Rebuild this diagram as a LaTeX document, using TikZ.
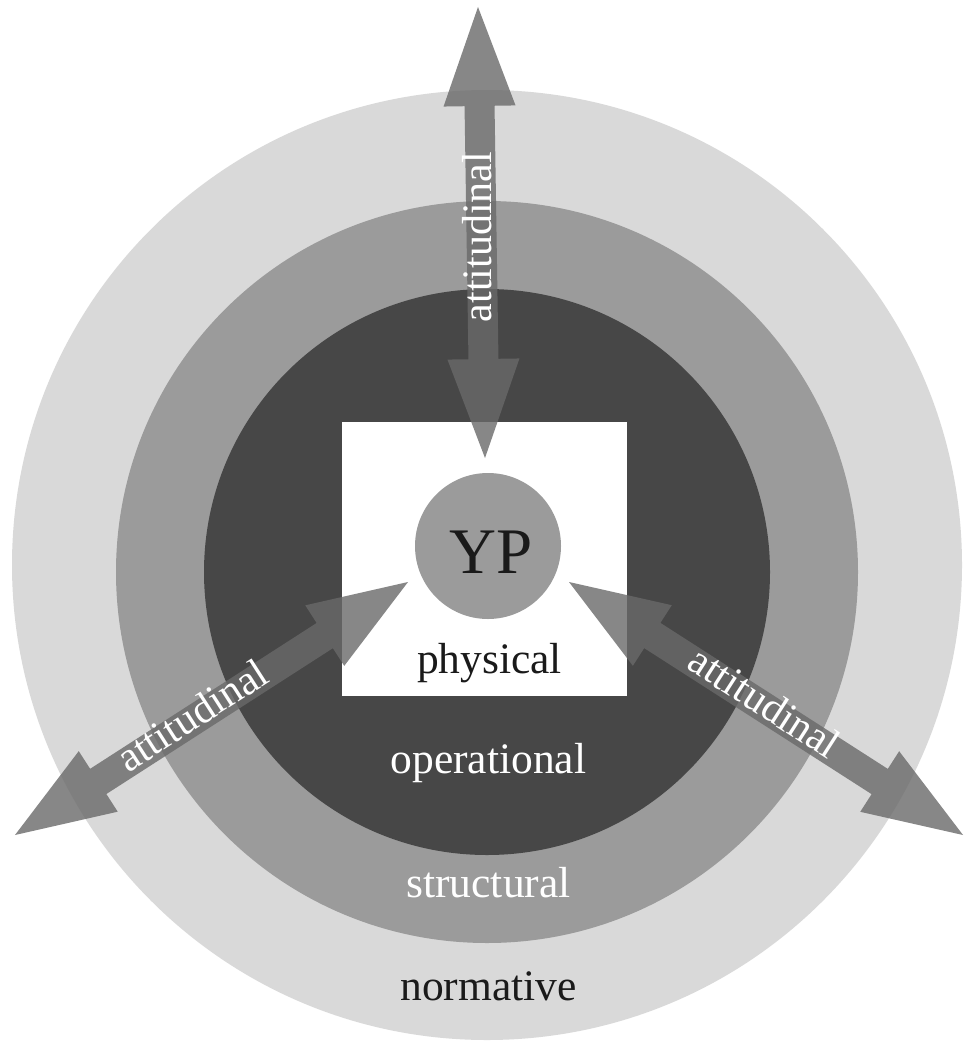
\documentclass[tikz,border=0pt]{standalone}
\usepackage{fontspec}
\setmainfont{Liberation Serif}
\usetikzlibrary{calc}
\definecolor{ringout}{HTML}{D9D9D9}
\definecolor{ringmid}{HTML}{9B9B9B}
\definecolor{ringin}{HTML}{474747}
\definecolor{arrowgray}{HTML}{696969}
\definecolor{inkdark}{HTML}{1A1A1A}
\tikzset{
  arrowfill/.style={fill=arrowgray, fill opacity=0.8},
  ringlabel/.style={anchor=base, font=\fontsize{43.5}{50}\selectfont, inner sep=0pt},
  arrowlabel/.style={anchor=base, text=white, font=\fontsize{42}{48}\selectfont, inner sep=0pt}
}
% two-headed fat arrow from #1 to #2
\newcommand\fatarrow[2]{%
  \coordinate (h1) at ($(#1)!99pt!(#2)$);
  \coordinate (h2) at ($(#2)!99pt!(#1)$);
  \fill[arrowfill] (#1)
    -- ($(h1)!36pt!90:(#2)$) -- ($(h1)!15pt!90:(#2)$)
    -- ($(h2)!15pt!-90:(#1)$) -- ($(h2)!36pt!-90:(#1)$)
    -- (#2)
    -- ($(h2)!36pt!90:(#1)$) -- ($(h2)!15pt!90:(#1)$)
    -- ($(h1)!15pt!-90:(#2)$) -- ($(h1)!36pt!-90:(#2)$)
    -- cycle;
}
\begin{document}
\begin{tikzpicture}[x=1pt, y=-1pt]
  \useasboundingbox (0,0) rectangle (971,1041);
  \fill[white] (0,0) rectangle (971,1041);

  % nested spheres of influence
  \fill[ringout] (487,565) circle (475);
  \fill[ringmid] (487,572) circle (371);
  \fill[ringin]  (487,572) circle (283);
  \fill[white] (342,422) rectangle (627,696);

  % arrow end points
  \coordinate (topfar)   at (478,7);
  \coordinate (topnear)  at (485,458);
  \coordinate (leftfar)  at (15,835);
  \coordinate (leftnear) at (408,582);
  \coordinate (rightfar) at (963,835);
  \coordinate (rightnear) at (569,582);

  \fatarrow{topfar}{topnear}
  \fatarrow{leftfar}{leftnear}
  \fatarrow{rightfar}{rightnear}

  % central person
  \node[circle, fill=ringmid, minimum size=146pt, inner sep=0pt] (yp) at (488,546) {};
  \node[anchor=base, font=\fontsize{65}{70}\selectfont, text=inkdark, inner sep=0pt] (yplabel) at (491,573) {YP};

  % ring labels
  \node[ringlabel, text=inkdark] (physical) at (489.5,673) {physical};
  \node[ringlabel, text=white] (operational) at (488.5,773) {operational};
  \node[ringlabel, text=white] (structural) at (488.5,897) {structural};
  \node[ringlabel, text=inkdark] (normative) at (488.5,1000) {normative};

  % arrow labels
  \node[arrowlabel, rotate=90] (atttop) at (491,237) {attitudinal};
  \node[arrowlabel, rotate=32.8] (attleft) at (200,727) {attitudinal};
  \node[arrowlabel, rotate=-32.8] (attright) at (757,714) {attitudinal};
\end{tikzpicture}
\end{document}
